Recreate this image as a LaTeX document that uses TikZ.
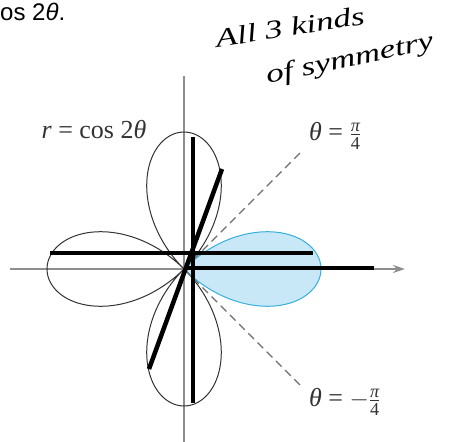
\documentclass[tikz,border=0pt]{standalone}
\usepackage{amsmath}
\usepackage{fontspec}
\setmainfont{Liberation Serif}
\newfontfamily\captionfont{Liberation Sans}
\newfontfamily\handfont{Liberation Serif}[FakeStretch=1.35]
\usepackage{tikz}
\usetikzlibrary{arrows.meta}
\definecolor{rsAxis}{HTML}{8E8E8E}
\definecolor{rsInk}{HTML}{333333}
\definecolor{rsGuide}{HTML}{6E6E6E}
\definecolor{rsPetal}{HTML}{C8E8F7}
\definecolor{rsEdge}{HTML}{35AFDB}
\tikzset{
  axis line/.style={draw=rsAxis,line width=1.8pt},
  rose curve/.style={draw=rsInk,line width=1pt},
  guide line/.style={draw=rsGuide,line width=1.2pt,dash pattern=on 8pt off 5pt},
  marker stroke/.style={draw=black,line width=4.5pt},
  plot label/.style={inner sep=0pt,text=rsInk,font=\fontsize{26}{30}\selectfont},
  scribble/.style={inner sep=0pt,rotate=12,font=\handfont\fontsize{26}{30}\selectfont\itshape}
}
\begin{document}
\begin{tikzpicture}[x=1pt,y=1pt]
\useasboundingbox (-184,-173) rectangle (269,269);
\coordinate (O) at (0,0);
% shaded petal
\fill[rsPetal] plot[domain=-45:45,samples=90,smooth] ({137*cos(2*\x)*cos(\x)},{137*cos(2*\x)*sin(\x)}) -- cycle;
% axes
\coordinate (xl) at (-174,0);
\coordinate (xr) at (221,0);
\coordinate (yb) at (0,-173);
\coordinate (yt) at (0,193);
\draw[axis line,-{Stealth[length=12pt,width=8pt]}] (xl) -- (xr);
\draw[axis line] (yb) -- (yt);
% rose r = cos 2 theta
\draw[rose curve] plot[domain=45:315,samples=271,smooth] ({137*cos(2*\x)*cos(\x)},{137*cos(2*\x)*sin(\x)});
\draw[rose curve,draw=rsEdge] plot[domain=-45:45,samples=91,smooth] ({137*cos(2*\x)*cos(\x)},{137*cos(2*\x)*sin(\x)});
% guide rays
\coordinate (up) at (116,116);
\coordinate (dn) at (116,-116);
\draw[guide line] (O) -- (up);
\draw[guide line] (O) -- (dn);
\node[plot label] (rlab) at (-90,139) {\textit{r} = cos 2\textit{θ}};
\node[plot label,anchor=west] (plab) at (125,133) {\textit{θ} = $\tfrac{\text{\itshape π}}{\text{4}}$};
\node[plot label,anchor=west] (mlab) at (125,-133) {\textit{θ} = $-\tfrac{\text{\itshape π}}{\text{4}}$};
% hand strokes
\coordinate (v1) at (9,132);
\coordinate (v2) at (9,-134);
\coordinate (s1) at (-35,-100);
\coordinate (s2) at (38,100);
\coordinate (h1) at (-134,16);
\coordinate (h2) at (129,16);
\coordinate (h3) at (2,1);
\coordinate (h4) at (190,1);
\draw[marker stroke] (v1) -- (v2);
\draw[marker stroke] (s1) -- (s2);
\draw[marker stroke] (h1) -- (h2);
\draw[marker stroke] (h3) -- (h4);
% notes
\node[scribble,rotate=-3] (note1) at (106,242) {All 3 kinds};
\node[scribble] (note2) at (166,209) {of symmetry};
\node[inner sep=0pt,anchor=base west,font=\captionfont\fontsize{24}{28}\selectfont] (cut) at (-184,248) {os 2\textit{θ}.};
\end{tikzpicture}
\end{document}
